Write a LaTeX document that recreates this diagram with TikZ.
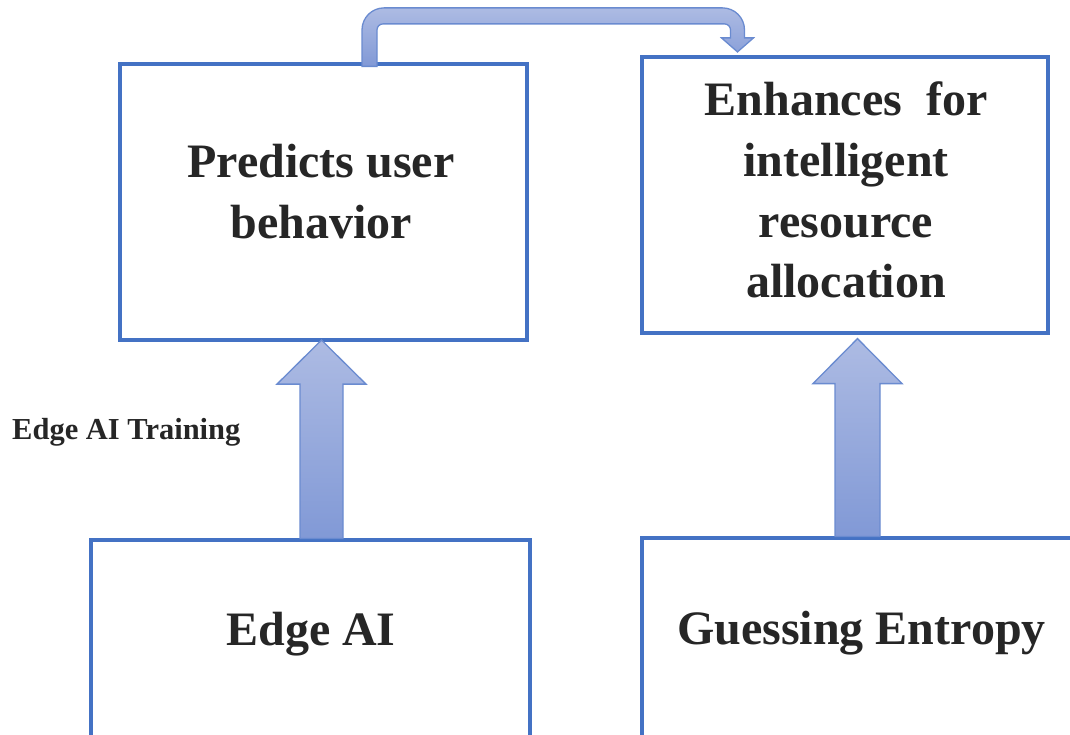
\documentclass[tikz,border=0pt]{standalone}
\usepackage{fontspec}
\setmainfont{Liberation Serif}
\usetikzlibrary{calc}

\definecolor{boxblue}{HTML}{4472C4}
\definecolor{arrowedge}{HTML}{6A8BD0}
\definecolor{shadetop}{HTML}{ADBBE3}
\definecolor{shadebot}{HTML}{8199D6}
\definecolor{ink}{HTML}{262626}

\begin{document}
\begin{tikzpicture}[x=1pt,y=-1pt,
  box/.style={draw=boxblue, line width=3.2pt, fill=white,
    minimum width=#1, minimum height=276pt, inner sep=0pt},
  txt/.style={text=ink, inner sep=0pt, font=\bfseries\fontsize{48pt}{61pt}\selectfont},
  smalltxt/.style={text=ink, inner sep=0pt, font=\bfseries\fontsize{30.5pt}{34pt}\selectfont},
  arrowfill/.style={draw=arrowedge, line width=1.3pt, line join=miter,
    top color=shadetop, bottom color=shadebot}]

\useasboundingbox (0,0) rectangle (1070,735);
\clip (0,0) rectangle (1070,735);

% boxes
\node[box=407pt] (p) at (323.5,202) {};
\node[box=406pt] (h) at (845,195) {};
\node[box=439pt] (e) at (310.5,678) {};
\node[box=439pt] (g) at (861.5,676) {};

% box texts
\node[txt, align=center] (pt) at (321,192) {Predicts user\\behavior};
\node[txt, align=center, font=\bfseries\fontsize{48pt}{60.7pt}\selectfont] (ht) at (846,190)
  {Enhances\ \ for\\intelligent\\resource\\allocation};
\node[txt, anchor=base] (et) at (311,645) {Edge AI};
\node[txt, anchor=base] (gt) at (861.5,644) {Guessing Entropy};
\node[smalltxt, anchor=base west] (lt) at (12,439) {Edge AI Training};

% upward block arrows
\coordinate (a1) at ($(p.south)+(-2,-1.5)$);
\coordinate (a2) at ($(h.south)+(12.5,4)$);
\path[arrowfill] let \p1=(a1), \p2=(a1 |- e.north) in
  (\x2-21.5pt,\y2) -- (\x2-21.5pt,\y1-44pt) -- (\x1-44.5pt,\y1-44pt) -- (\x1,\y1)
  -- (\x1+44.5pt,\y1-44pt) -- (\x2+21.5pt,\y1-44pt) -- (\x2+21.5pt,\y2) -- cycle;
\path[arrowfill] let \p1=(a2), \p2=(a2 |- g.north) in
  (\x2-22.5pt,\y2) -- (\x2-22.5pt,\y1-45pt) -- (\x1-44.5pt,\y1-45pt) -- (\x1,\y1)
  -- (\x1+44.5pt,\y1-45pt) -- (\x2+22.5pt,\y1-45pt) -- (\x2+22.5pt,\y2) -- cycle;

% bent arrow over the top, from the first box to the second
\coordinate (cs) at ($(p.north)+(46,4)$);
\coordinate (ce) at ($(h.north)+(-107.5,-3.5)$);
\path[arrowfill] let \p1=(cs), \p2=(ce) in
  (\x1-7.5pt,\y1) -- (\x1-7.5pt,\y2+22pt)
  arc[start angle=180, end angle=90, radius=22pt]
  -- (\x2-15pt,\y2+44pt)
  arc[start angle=90, end angle=0, radius=22pt]
  -- (\x2+7pt,\y2+14pt) -- (\x2+16pt,\y2+14pt) -- (\x2,\y2)
  -- (\x2-16pt,\y2+14pt) -- (\x2-7pt,\y2+14pt) -- (\x2-7pt,\y2+22pt)
  arc[start angle=0, end angle=90, radius=6pt]
  -- (\x1+13.5pt,\y2+28pt)
  arc[start angle=90, end angle=180, radius=6pt]
  -- (\x1+7.5pt,\y1) -- cycle;

\end{tikzpicture}
\end{document}
